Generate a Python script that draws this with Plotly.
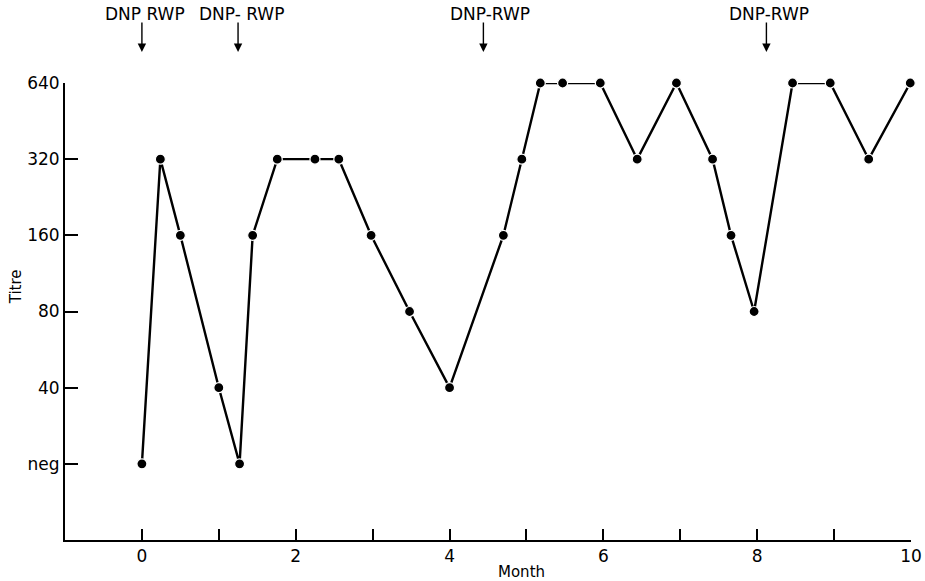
import math
import plotly.graph_objects as go

# ---- data ----
months = [0.0, 0.24, 0.50, 1.00, 1.27, 1.44, 1.76, 2.25, 2.56, 2.98,
          3.48, 4.00, 4.70, 4.94, 5.18, 5.47, 5.96, 6.44, 6.95, 7.42,
          7.66, 7.96, 8.46, 8.95, 9.45, 9.99]
NEG = 20  # plotting position for a negative titre (one doubling below 40)
titres = [NEG, 320, 160, 40, NEG, 160, 320, 320, 320, 160,
          80, 40, 160, 320, 640, 640, 640, 320, 640, 320,
          160, 80, 640, 640, 320, 640]
ytick_vals = [NEG, 40, 80, 160, 320, 640]
ytick_text = ["neg", "40", "80", "160", "320", "640"]
xtick_vals = list(range(0, 11))
xtick_text = ["0", "", "2", "", "4", "", "6", "", "8", "", "10"]
event_months = [0.0, 1.25, 4.44, 8.12]
event_label_x = [0.04, 1.30, 4.52, 8.15]
event_labels = ["DNP RWP", "DNP- RWP", "DNP-RWP", "DNP-RWP"]

FONT = "DejaVu Sans"

fig = go.Figure()
fig.add_trace(go.Scatter(
    x=months, y=titres, mode="lines+markers",
    line=dict(color="black", width=2.4),
    marker=dict(color="black", size=10, line=dict(color="white", width=1.2)),
    cliponaxis=False, showlegend=False, hoverinfo="x+y",
))

annotations = []
for m in event_months:
    annotations.append(dict(
        x=m, y=1.068, xref="x", yref="paper", text="", showarrow=True,
        ax=0, ay=-31, arrowhead=2, arrowsize=1.2, arrowwidth=1.4,
        arrowcolor="black",
    ))
for mx, lab in zip(event_label_x, event_labels):
    annotations.append(dict(
        x=mx, y=1.151, xref="x", yref="paper", text=lab, showarrow=False,
        font=dict(family=FONT, size=17, color="black"),
        xanchor="center", yanchor="middle",
    ))
annotations.append(dict(
    x=4.93, y=-0.07, xref="x", yref="paper", text="Month", showarrow=False,
    font=dict(family=FONT, size=15, color="black"), xanchor="center", yanchor="middle",
))
annotations.append(dict(
    x=-0.058, y=0.555, xref="paper", yref="paper", text="Titre", showarrow=False,
    textangle=-90, font=dict(family=FONT, size=15, color="black"),
    xanchor="center", yanchor="middle",
))

fig.update_layout(
    width=925, height=581,
    margin=dict(l=65, r=14, t=83, b=41),
    paper_bgcolor="white", plot_bgcolor="white",
    font=dict(family=FONT, size=17, color="black"),
    annotations=annotations,
    xaxis=dict(
        range=[-1, 10], tickvals=xtick_vals, ticktext=xtick_text,
        ticks="inside", ticklen=11, tickwidth=1.5, tickcolor="black",
        showline=True, linecolor="black", linewidth=2,
        showgrid=False, zeroline=False, automargin=False,
        tickfont=dict(family=FONT, size=17),
    ),
    yaxis=dict(
        type="log", range=[math.log10(10), math.log10(640)],
        tickvals=ytick_vals, ticktext=ytick_text,
        ticks="inside", ticklen=13, tickwidth=1.5, tickcolor="black",
        showline=True, linecolor="black", linewidth=2,
        showgrid=False, zeroline=False, automargin=False,
        tickfont=dict(family=FONT, size=17),
    ),
)

fig.write_html(
    "out.html",
    config={"displayModeBar": False},
    post_script="document.body.style.margin='0';document.body.style.overflow='hidden';",
)
